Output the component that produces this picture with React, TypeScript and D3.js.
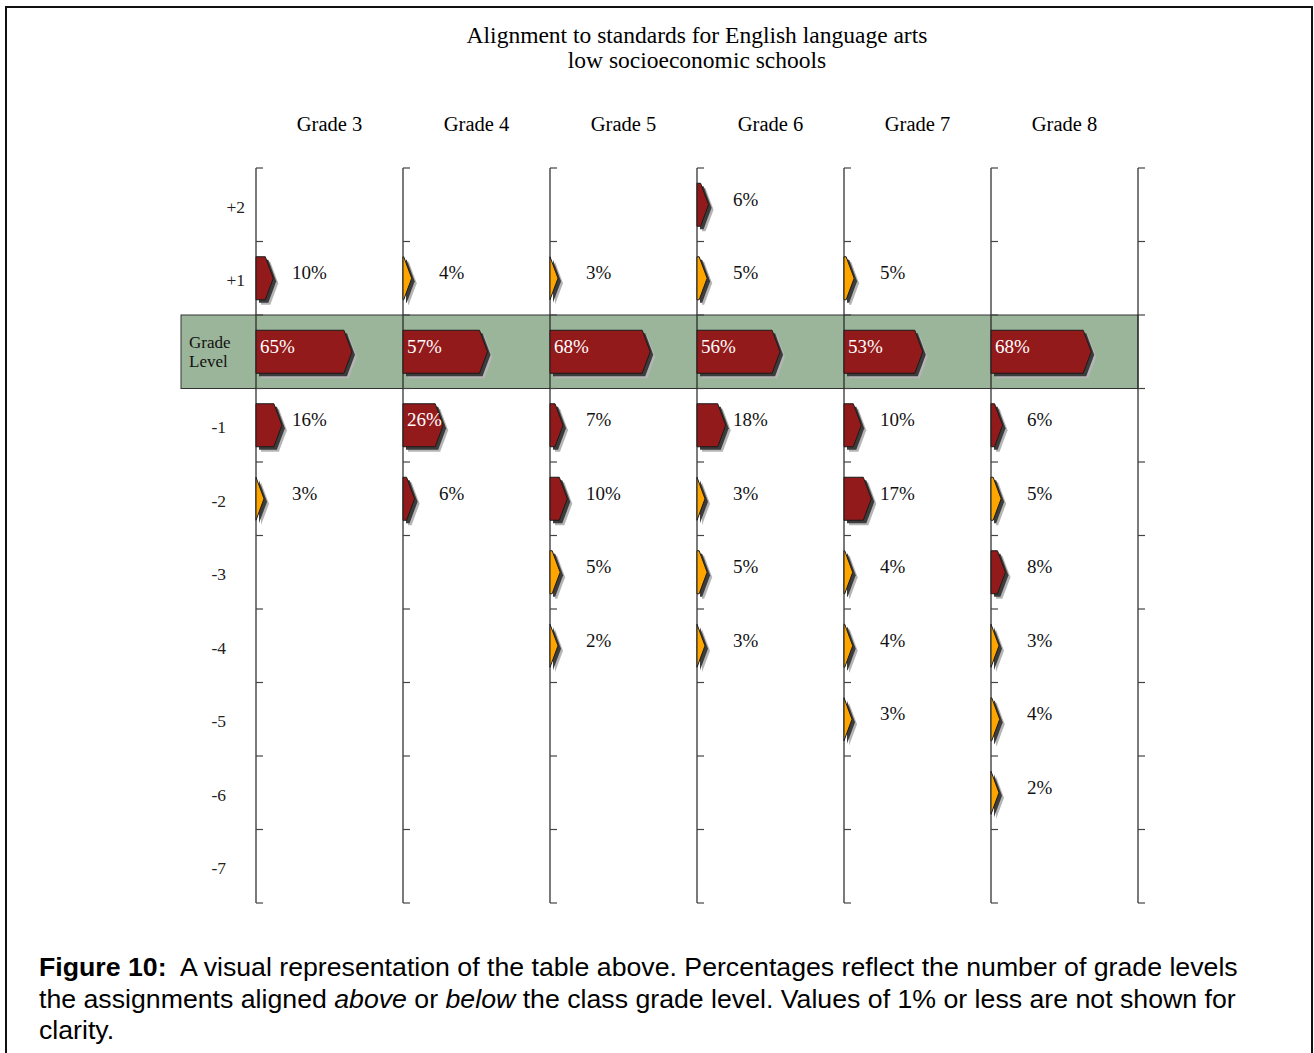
import React from "react";
import * as d3 from "d3";

const title = ["Alignment to standards for English language arts", "low socioeconomic schools"];
const grades = ["Grade 3", "Grade 4", "Grade 5", "Grade 6", "Grade 7", "Grade 8"];
const levels = ["+2", "+1", "0", "-1", "-2", "-3", "-4", "-5", "-6", "-7"];
// values per grade, by level order above (null = not shown)
const grade3 = [null, 10, 65, 16, 3, null, null, null, null, null];
const grade4 = [null, 4, 57, 26, 6, null, null, null, null, null];
const grade5 = [null, 3, 68, 7, 10, 5, 2, null, null, null];
const grade6 = [6, 5, 56, 18, 3, 5, 3, null, null, null];
const grade7 = [null, 5, 53, 10, 17, 4, 4, 3, null, null];
const grade8 = [null, null, 68, 6, 5, 8, 3, 4, 2, null];
const series = [grade3, grade4, grade5, grade6, grade7, grade8];

const W = 1314;
const H = 1053;
const SERIF = "'Liberation Serif', 'Times New Roman', serif";
const SANS = "'Liberation Sans', Arial, sans-serif";
const RED = "#931a1b";
const ORANGE = "#ffa500";

export default function App() {
  const x = d3.scaleBand<string>().domain([...grades, "end"]).range([256, 256 + 147 * 7]);
  const axisX = (g: string) => x(g) as number;
  const y = d3.scaleBand<string>().domain(levels).range([168, 903]);
  const rowH = y.bandwidth();
  const len = d3.scaleLinear().domain([0, 100]).range([3, 146]);
  const axes = [...grades, "end"];
  const lastX = axisX("end");
  const arrowH = 43;
  const tipLen = 8;

  const arrowPath = (L: number) => {
    const t = Math.min(tipLen, L);
    const h = arrowH / 2;
    return `M0,${-h}L${L - t},${-h}L${L},0L${L - t},${h}L0,${h}Z`;
  };

  const ticks = [...levels.map((l) => y(l) as number), 903];

  return (
    <svg width={W} height={H} style={{ position: "absolute", left: 0, top: 0, background: "#fff" }}>
      <rect x={6} y={7} width={1306} height={1070} fill="#fff" stroke="#111" strokeWidth={2} />
      {title.map((t, i) => (
        <text key={i} x={697} y={43 + i * 25} textAnchor="middle" fontFamily={SERIF} fontSize={23.5}>
          {t}
        </text>
      ))}
      {grades.map((g) => (
        <text key={g} x={axisX(g) + x.bandwidth() / 2} y={131} textAnchor="middle" fontFamily={SERIF} fontSize={20.5}>
          {g}
        </text>
      ))}
      {/* grade level band */}
      <rect
        x={181}
        y={y("0") as number}
        width={lastX - 181}
        height={rowH}
        fill="#9bb59a"
        stroke="#333"
        strokeWidth={1}
      />
      <text fontFamily={SERIF} fontSize={17} fill="#111">
        <tspan x={189} y={(y("0") as number) + 33}>Grade</tspan>
        <tspan x={189} y={(y("0") as number) + 52}>Level</tspan>
      </text>
      {levels
        .filter((l) => l !== "0")
        .map((l) => (
          <text
            key={l}
            x={l.startsWith("+") ? 245 : 226}
            y={(y(l) as number) + rowH / 2 + 8}
            textAnchor="end"
            fontFamily={SERIF}
            fontSize={17.5}
            fill="#222"
          >
            {l}
          </text>
        ))}
      {/* axes */}
      {axes.map((g) => (
        <g key={g}>
          <line x1={axisX(g)} x2={axisX(g)} y1={168} y2={903} stroke="#222" strokeWidth={1.2} />
          {ticks.map((t, i) => (
            <line key={i} x1={axisX(g)} x2={axisX(g) + 7} y1={t} y2={t} stroke="#444" strokeWidth={1.2} />
          ))}
        </g>
      ))}
      {/* arrows */}
      {grades.map((g, gi) =>
        series[gi].map((v, li) => {
          if (v == null) return null;
          const lvl = levels[li];
          const cy = (y(lvl) as number) + rowH / 2;
          const x0 = axisX(g);
          const L = Math.max(tipLen, len(v) as number);
          const d = arrowPath(L);
          const fill = v >= 6 ? RED : ORANGE;
          const inside = v > 20;
          return (
            <g key={`${g}-${lvl}`}>
              <path d={d} transform={`translate(${x0 + 5},${cy + 5})`} fill="#b5b5b5" />
              <path d={d} transform={`translate(${x0 + 3},${cy + 3})`} fill="#3c3c3c" />
              <path d={d} transform={`translate(${x0},${cy})`} fill={fill} stroke="#1a1a1a" strokeWidth={1} />
              <text
                x={inside ? x0 + 4 : x0 + 36}
                y={cy + 1}
                fontFamily={SERIF}
                fontSize={19}
                fill={inside ? "#fff" : "#111"}
              >
                {v}%
              </text>
            </g>
          );
        })
      )}
      {/* caption */}
      <text fontFamily={SANS} fontSize={26.7} fill="#000" style={{ whiteSpace: "pre" }}>
        <tspan x={39} y={976}>
          <tspan fontWeight="bold">Figure 10:</tspan>
          <tspan>{"  A visual representation of the table above. Percentages reflect the number of grade levels"}</tspan>
        </tspan>
        <tspan x={39} y={1007.5}>
          <tspan>the assignments aligned </tspan>
          <tspan fontStyle="italic">above</tspan>
          <tspan> or </tspan>
          <tspan fontStyle="italic">below</tspan>
          <tspan> the class grade level. Values of 1% or less are not shown for</tspan>
        </tspan>
        <tspan x={39} y={1039}>clarity.</tspan>
      </text>
    </svg>
  );
}
